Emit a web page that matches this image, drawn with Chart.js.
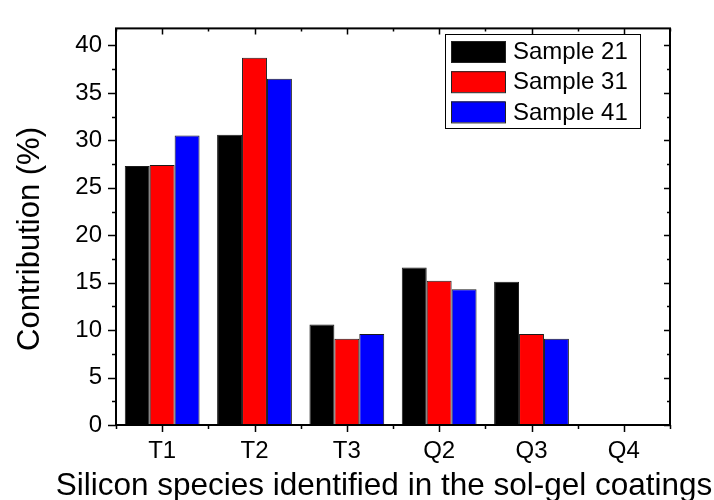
<!DOCTYPE html>
<html>
<head>
<meta charset="utf-8">
<script src="https://cdn.jsdelivr.net/npm/chart.js@4/dist/chart.umd.min.js"></script>
<style>
  html, body { margin: 0; padding: 0; background: #fff; }
  #wrap { width: 714px; height: 500px; }
</style>
</head>
<body>
<div id="wrap"><canvas id="c" width="714" height="500"></canvas></div>
<script>
// Silicon species and their contribution (%) for each sample
const species = ['T1', 'T2', 'T3', 'Q2', 'Q3', 'Q4'];
const sample21 = [27.3, 30.6, 10.6, 16.6, 15.1, 0];
const sample31 = [27.4, 38.7, 9.1, 15.2, 9.6, 0];
const sample41 = [30.5, 36.5, 9.6, 14.3, 9.1, 0];
const seriesNames = ['Sample 21', 'Sample 31', 'Sample 41'];
const seriesColors = ['#000000', '#ff0000', '#0000ff'];
const yTickValues = [0, 5, 10, 15, 20, 25, 30, 35, 40];
const yMax = 41.8;
const xTitle = 'Silicon species identified in the sol-gel coatings';
const yTitle = 'Contribution (%)';

const FONT = '"Liberation Sans", Arial, sans-serif';

// Box frame, ticks (major + minor), axis titles and legend
const framePlugin = {
  id: 'frame',
  afterDraw(chart) {
    const ctx = chart.ctx;
    const a = chart.chartArea;
    const xs = chart.scales.x;
    const ys = chart.scales.y;
    ctx.save();
    ctx.strokeStyle = '#000';
    ctx.lineWidth = 1.5;

    // y ticks: outward on the left, inward on the right
    ctx.beginPath();
    for (let v = 0; v <= yMax; v += 2.5) {
      const y = Math.round(ys.getPixelForValue(v)) + 0.5;
      const major = Math.abs(v % 5) < 1e-6;
      const lenL = major ? 8 : 4;
      const lenR = major ? 6 : 3;
      ctx.moveTo(a.left - lenL, y); ctx.lineTo(a.left, y);
      ctx.moveTo(a.right, y); ctx.lineTo(a.right - lenR, y);
    }
    // x ticks: major at category centres, minor at boundaries
    const n = species.length;
    for (let i = 0; i < n; i++) {
      const xc = Math.round(xs.getPixelForValue(i)) + 0.5;
      ctx.moveTo(xc, a.bottom); ctx.lineTo(xc, a.bottom + 7);
      ctx.moveTo(xc, a.top); ctx.lineTo(xc, a.top + 6);
    }
    for (let i = 0; i <= n; i++) {
      const xb = Math.round(xs.getPixelForValue(i - 0.5)) + 0.5;
      ctx.moveTo(xb, a.bottom); ctx.lineTo(xb, a.bottom + 4);
      ctx.moveTo(xb, a.top); ctx.lineTo(xb, a.top + 3);
    }
    ctx.stroke();

    // frame
    ctx.lineWidth = 2;
    ctx.strokeRect(a.left, a.top, a.right - a.left, a.bottom - a.top);

    // axis titles
    ctx.fillStyle = '#000';
    ctx.font = '31.5px ' + FONT;
    ctx.textAlign = 'center';
    ctx.textBaseline = 'alphabetic';
    ctx.fillText(xTitle, 384, 495);
    ctx.save();
    ctx.font = '31px ' + FONT;
    ctx.translate(30, 239);
    ctx.rotate(-Math.PI / 2);
    ctx.textBaseline = 'middle';
    ctx.fillText(yTitle, 0, 0);
    ctx.restore();

    // legend
    const lx = 445.5, ly = 34.5, lw = 195, lh = 94;
    ctx.fillStyle = '#fff';
    ctx.fillRect(lx, ly, lw, lh);
    ctx.lineWidth = 1;
    ctx.strokeStyle = '#000';
    ctx.strokeRect(lx, ly, lw, lh);
    ctx.font = '24px ' + FONT;
    ctx.textAlign = 'left';
    ctx.textBaseline = 'middle';
    chart.data.datasets.forEach((ds, i) => {
      const sy = 41 + i * 30.2;
      ctx.fillStyle = ds.backgroundColor;
      ctx.fillRect(451, sy, 54, 21);
      ctx.strokeStyle = '#222';
      ctx.strokeRect(451.5, sy + 0.5, 54, 21);
      ctx.fillStyle = '#000';
      ctx.fillText(ds.label, 513, sy + 11.5);
    });
    ctx.restore();
  }
};

const datasets = [sample21, sample31, sample41].map((vals, i) => ({
  label: seriesNames[i],
  data: vals,
  backgroundColor: seriesColors[i],
  borderColor: '#1a1a1a',
  borderWidth: 1,
  categoryPercentage: 0.81,
  barPercentage: 1.0
}));

new Chart(document.getElementById('c'), {
  type: 'bar',
  data: { labels: species, datasets },
  options: {
    responsive: false,
    animation: false,
    events: [],
    layout: { padding: { left: 0, right: 44, top: 15, bottom: 0 } },
    plugins: { legend: { display: false }, tooltip: { enabled: false } },
    scales: {
      x: {
        grid: { display: false, drawTicks: false },
        border: { display: false },
        ticks: { color: '#000', font: { family: FONT, size: 24 }, padding: 12, maxRotation: 0 },
        afterFit(s) { s.height = 75; }
      },
      y: {
        min: 0,
        max: yMax,
        grid: { display: false, drawTicks: false },
        border: { display: false },
        ticks: { color: '#000', font: { family: FONT, size: 24 }, padding: 14 },
        afterBuildTicks(s) { s.ticks = yTickValues.map(v => ({ value: v })); },
        afterFit(s) { s.width = 116; }
      }
    }
  },
  plugins: [framePlugin]
});
</script>
</body>
</html>
